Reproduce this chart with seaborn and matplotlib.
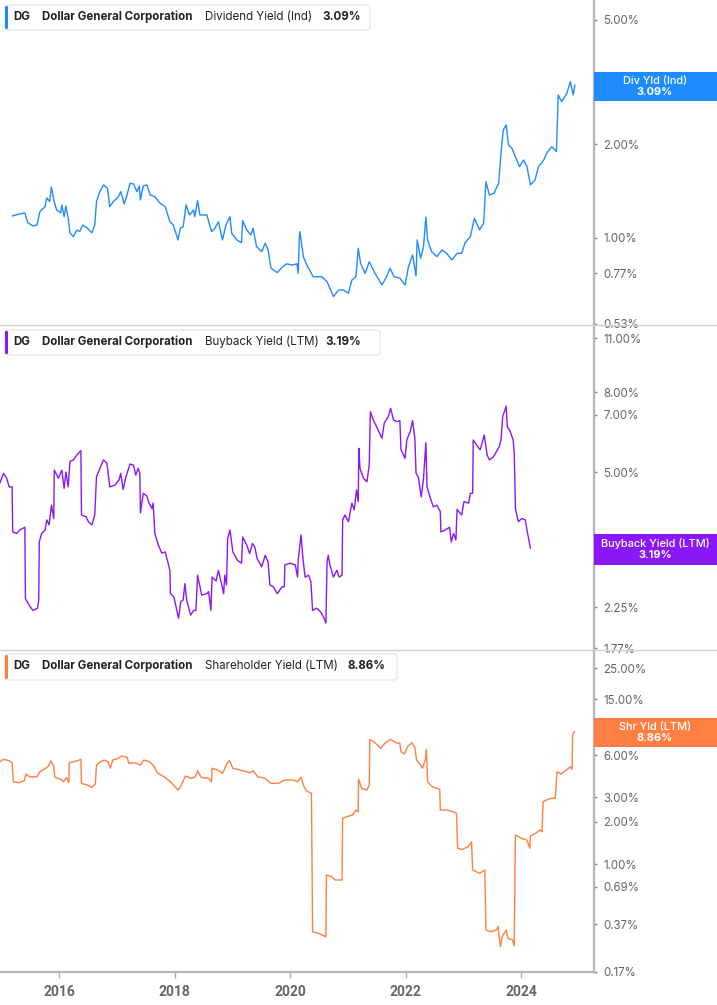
import matplotlib
matplotlib.use("Agg")
import matplotlib.pyplot as plt
import seaborn as sns
import pandas as pd
from matplotlib.patches import FancyBboxPatch, Rectangle
from matplotlib.lines import Line2D
from matplotlib.ticker import FixedLocator, FixedFormatter, NullLocator

# ---------------- data ----------------
div_years = [2015.19, 2015.32, 2015.41, 2015.46, 2015.55, 2015.62, 2015.67, 2015.76, 2015.79, 2015.84,
             2015.87, 2015.91, 2015.96, 2016.03, 2016.05, 2016.09, 2016.12, 2016.16, 2016.19, 2016.25,
             2016.31, 2016.36, 2016.41, 2016.49, 2016.57, 2016.62, 2016.65, 2016.70, 2016.77, 2016.84,
             2016.88, 2016.94, 2017.03, 2017.07, 2017.13, 2017.17, 2017.23, 2017.29, 2017.35, 2017.39,
             2017.41, 2017.46, 2017.52, 2017.58, 2017.66, 2017.75, 2017.84, 2017.92, 2017.98, 2018.06,
             2018.10, 2018.15, 2018.20, 2018.26, 2018.33, 2018.35, 2018.40, 2018.44, 2018.56, 2018.64,
             2018.70, 2018.76, 2018.83, 2018.89, 2018.96, 2018.99, 2019.08, 2019.16, 2019.18, 2019.25,
             2019.32, 2019.36, 2019.42, 2019.51, 2019.57, 2019.62, 2019.67, 2019.78, 2019.86, 2019.94,
             2020.03, 2020.12, 2020.14, 2020.16, 2020.17, 2020.23, 2020.29, 2020.40, 2020.55, 2020.64,
             2020.75, 2020.84, 2020.92, 2021.01, 2021.07, 2021.14, 2021.18, 2021.22, 2021.30, 2021.37,
             2021.47, 2021.59, 2021.67, 2021.73, 2021.80, 2021.90, 2021.99, 2022.05, 2022.12, 2022.18,
             2022.20, 2022.26, 2022.31, 2022.35, 2022.38, 2022.45, 2022.54, 2022.63, 2022.71, 2022.80,
             2022.89, 2022.97, 2023.03, 2023.12, 2023.19, 2023.28, 2023.35, 2023.39, 2023.45, 2023.53,
             2023.61, 2023.65, 2023.69, 2023.74, 2023.78, 2023.84, 2023.90, 2023.97, 2024.04, 2024.10,
             2024.16, 2024.24, 2024.30, 2024.39, 2024.44, 2024.53, 2024.61, 2024.64, 2024.70, 2024.79,
             2024.85, 2024.90, 2024.93]
div_vals = [1.176, 1.194, 1.203, 1.12, 1.093, 1.10, 1.214, 1.26, 1.343, 1.307,
            1.457, 1.324, 1.229, 1.205, 1.276, 1.17, 1.266, 1.159, 1.038, 1.01,
            1.061, 1.048, 1.10, 1.077, 1.038, 1.10, 1.307, 1.397, 1.479, 1.443,
            1.26, 1.307, 1.356, 1.407, 1.285, 1.356, 1.497, 1.49, 1.407, 1.468,
            1.324, 1.468, 1.479, 1.373, 1.356, 1.292, 1.26, 1.128, 1.10, 0.985,
            1.074, 1.087, 1.276, 1.185, 1.229, 1.17, 1.317, 1.185, 1.185, 1.048,
            1.074, 1.128, 0.985, 1.10, 1.17, 1.035, 0.985, 0.966, 1.136, 1.061,
            1.022, 1.074, 0.938, 0.904, 0.962, 0.915, 0.80, 0.774, 0.806, 0.826,
            0.819, 0.826, 0.77, 0.998, 1.048, 0.871, 0.819, 0.751, 0.751, 0.724,
            0.649, 0.681, 0.681, 0.665, 0.733, 0.751, 0.927, 0.83, 0.77, 0.839,
            0.77, 0.707, 0.751, 0.80, 0.751, 0.743, 0.707, 0.809, 0.882, 0.756,
            0.985, 0.861, 0.938, 1.165, 0.985, 0.904, 0.871, 0.915, 0.893, 0.85,
            0.893, 0.893, 0.966, 1.01, 1.156, 1.061, 1.115, 1.515, 1.373, 1.391,
            1.497, 1.868, 2.22, 2.302, 1.987, 1.939, 1.822, 1.692, 1.778, 1.692,
            1.479, 1.535, 1.692, 1.778, 1.868, 1.962, 1.891, 2.873, 2.735, 2.909,
            3.17, 2.873, 3.09]

bb_years = [2014.98, 2015.04, 2015.09, 2015.14, 2015.19, 2015.20, 2015.27, 2015.32, 2015.41, 2015.42,
            2015.50, 2015.55, 2015.63, 2015.65, 2015.66, 2015.70, 2015.76, 2015.79, 2015.83, 2015.87,
            2015.91, 2015.92, 2015.99, 2016.05, 2016.09, 2016.12, 2016.16, 2016.19, 2016.25, 2016.31,
            2016.38, 2016.39, 2016.47, 2016.51, 2016.57, 2016.62, 2016.65, 2016.71, 2016.77, 2016.83,
            2016.88, 2016.97, 2017.04, 2017.07, 2017.11, 2017.16, 2017.23, 2017.29, 2017.33, 2017.37,
            2017.40, 2017.41, 2017.46, 2017.52, 2017.56, 2017.61, 2017.63, 2017.66, 2017.72, 2017.78,
            2017.84, 2017.89, 2017.92, 2017.93, 2017.99, 2018.07, 2018.11, 2018.15, 2018.18, 2018.21,
            2018.28, 2018.33, 2018.37, 2018.40, 2018.47, 2018.56, 2018.59, 2018.63, 2018.65, 2018.72,
            2018.76, 2018.80, 2018.85, 2018.87, 2018.90, 2018.92, 2018.96, 2019.01, 2019.09, 2019.16,
            2019.18, 2019.25, 2019.30, 2019.35, 2019.39, 2019.43, 2019.51, 2019.57, 2019.62, 2019.65,
            2019.71, 2019.78, 2019.86, 2019.90, 2019.91, 2020.00, 2020.09, 2020.13, 2020.14, 2020.19,
            2020.22, 2020.26, 2020.32, 2020.36, 2020.39, 2020.46, 2020.53, 2020.59, 2020.62, 2020.64,
            2020.66, 2020.69, 2020.75, 2020.81, 2020.85, 2020.90, 2020.91, 2020.95, 2021.01, 2021.07,
            2021.11, 2021.15, 2021.18, 2021.19, 2021.21, 2021.27, 2021.33, 2021.37, 2021.39, 2021.44,
            2021.51, 2021.59, 2021.63, 2021.70, 2021.74, 2021.79, 2021.85, 2021.90, 2021.92, 2021.99,
            2022.02, 2022.08, 2022.12, 2022.16, 2022.18, 2022.22, 2022.27, 2022.31, 2022.35, 2022.37,
            2022.42, 2022.48, 2022.54, 2022.60, 2022.61, 2022.68, 2022.76, 2022.79, 2022.83, 2022.87,
            2022.89, 2022.97, 2023.01, 2023.09, 2023.12, 2023.16, 2023.17, 2023.23, 2023.29, 2023.36,
            2023.41, 2023.45, 2023.52, 2023.59, 2023.62, 2023.65, 2023.68, 2023.74, 2023.76, 2023.81,
            2023.86, 2023.88, 2023.90, 2023.95, 2024.01, 2024.07, 2024.10, 2024.16]
bb_vals = [4.69, 4.96, 4.84, 4.58, 4.58, 3.51, 3.48, 3.55, 3.61, 2.37,
           2.26, 2.21, 2.24, 2.35, 3.31, 3.48, 3.55, 3.77, 3.66, 4.11,
           3.80, 5.06, 4.82, 5.06, 4.54, 5.0, 4.58, 5.32, 5.37, 5.53,
           5.67, 3.88, 3.84, 3.73, 3.66, 3.88, 4.86, 5.11, 5.37, 5.27,
           4.58, 4.63, 4.77, 4.96, 4.51, 4.86, 5.24, 5.21, 4.91, 5.11,
           4.96, 3.93, 4.41, 4.34, 4.16, 4.03, 4.16, 3.48, 3.25, 3.10,
           3.12, 2.92, 2.80, 2.44, 2.39, 2.11, 2.33, 2.35, 2.59, 2.35,
           2.15, 2.21, 2.21, 2.72, 2.42, 2.44, 2.47, 2.21, 2.69, 2.63,
           2.80, 2.64, 2.44, 2.72, 2.57, 3.38, 3.55, 3.12, 2.97, 2.92,
           3.41, 3.25, 3.09, 3.28, 3.21, 3.00, 2.86, 3.06, 2.94, 2.57,
           2.54, 2.44, 2.54, 2.54, 2.89, 2.92, 2.89, 2.69, 2.97, 3.45,
           3.03, 2.69, 2.72, 2.62, 2.21, 2.24, 2.19, 2.11, 2.05, 2.94,
           3.06, 2.89, 2.69, 2.80, 2.69, 2.72, 3.77, 3.88, 3.73, 4.16,
           4.00, 4.50, 4.20, 5.75, 5.11, 4.82, 4.72, 5.21, 7.14, 6.80,
           6.47, 6.10, 6.67, 6.93, 7.28, 6.80, 6.73, 6.77, 5.70, 5.42,
           6.04, 6.35, 6.77, 6.10, 4.96, 4.86, 4.32, 4.82, 5.94, 4.58,
           4.32, 4.07, 4.11, 3.96, 3.51, 3.55, 3.61, 3.31, 3.48, 3.35,
           4.01, 3.88, 4.20, 4.16, 4.41, 4.41, 6.04, 5.86, 5.70, 6.22,
           5.53, 5.37, 5.47, 5.70, 5.81, 6.04, 6.93, 7.38, 6.53, 6.35,
           6.04, 5.58, 4.03, 3.73, 3.80, 3.77, 3.55, 3.19]

sh_years = [2014.98, 2015.04, 2015.14, 2015.19, 2015.21, 2015.31, 2015.40, 2015.43, 2015.50, 2015.62,
            2015.67, 2015.77, 2015.82, 2015.86, 2015.91, 2015.93, 2016.03, 2016.08, 2016.13, 2016.17,
            2016.18, 2016.26, 2016.32, 2016.38, 2016.39, 2016.49, 2016.57, 2016.63, 2016.65, 2016.72,
            2016.78, 2016.85, 2016.89, 2016.93, 2017.03, 2017.08, 2017.18, 2017.21, 2017.31, 2017.41,
            2017.47, 2017.57, 2017.65, 2017.70, 2017.80, 2017.93, 2018.06, 2018.11, 2018.19, 2018.29,
            2018.36, 2018.40, 2018.46, 2018.59, 2018.64, 2018.65, 2018.75, 2018.83, 2018.91, 2018.95,
            2019.01, 2019.18, 2019.31, 2019.36, 2019.44, 2019.57, 2019.67, 2019.80, 2019.90, 2020.06,
            2020.13, 2020.19, 2020.23, 2020.28, 2020.37, 2020.39, 2020.49, 2020.62, 2020.63, 2020.72,
            2020.78, 2020.90, 2020.91, 2020.98, 2021.08, 2021.14, 2021.18, 2021.185, 2021.24, 2021.33,
            2021.37, 2021.38, 2021.47, 2021.57, 2021.64, 2021.74, 2021.83, 2021.90, 2021.92, 2021.98,
            2022.03, 2022.11, 2022.16, 2022.19, 2022.26, 2022.29, 2022.34, 2022.36, 2022.38, 2022.46,
            2022.59, 2022.60, 2022.72, 2022.82, 2022.88, 2022.90, 2022.98, 2023.08, 2023.14, 2023.16,
            2023.28, 2023.37, 2023.39, 2023.47, 2023.57, 2023.60, 2023.64, 2023.67, 2023.74, 2023.77,
            2023.85, 2023.88, 2023.90, 2024.00, 2024.10, 2024.15, 2024.16, 2024.26, 2024.33, 2024.36,
            2024.38, 2024.46, 2024.54, 2024.59, 2024.62, 2024.69, 2024.78, 2024.85, 2024.88, 2024.89,
            2024.92]
sh_vals = [5.38, 5.60, 5.47, 5.29, 3.87, 3.81, 3.94, 4.39, 4.20, 4.20,
           4.56, 4.83, 5.01, 5.47, 4.95, 4.16, 4.03, 3.87, 4.16, 3.81,
           5.29, 5.38, 5.47, 5.60, 3.77, 3.67, 3.53, 3.73, 5.10, 5.38,
           5.53, 5.38, 4.83, 5.53, 5.69, 5.91, 5.78, 5.24, 5.29, 5.10,
           5.53, 5.38, 4.95, 4.49, 4.25, 3.87, 3.38, 3.61, 4.25, 4.09,
           4.20, 4.64, 4.16, 4.09, 3.87, 4.83, 4.69, 4.44, 5.24, 5.47,
           4.83, 4.64, 4.49, 4.64, 4.20, 4.09, 3.77, 3.77, 3.98, 3.98,
           3.87, 4.16, 3.67, 3.34, 3.20, 0.328, 0.320, 0.302, 0.835, 0.812,
           0.769, 0.769, 2.12, 2.18, 2.24, 2.43, 2.36, 4.03, 3.47, 3.38,
           3.67, 7.78, 7.35, 6.71, 7.28, 7.78, 7.35, 7.28, 6.34, 6.11,
           6.88, 7.35, 6.82, 5.53, 5.10, 4.83, 5.53, 6.60, 3.87, 3.57,
           3.42, 2.43, 2.43, 2.36, 2.30, 1.295, 1.27, 1.33, 1.44, 0.906,
           0.858, 0.906, 0.338, 0.328, 0.338, 0.357, 0.257, 0.302, 0.338, 0.295,
           0.287, 0.26, 1.61, 1.53, 1.48, 1.295, 1.585, 1.67, 1.75, 1.70,
           2.79, 2.90, 2.95, 2.95, 4.56, 4.39, 4.69, 4.95, 4.75, 8.35,
           8.86]

div_ticks = [0.53, 0.77, 1.00, 2.00, 3.00, 5.00]
bb_ticks = [1.77, 2.25, 3.00, 5.00, 7.00, 8.00, 11.00]
sh_ticks = [0.17, 0.37, 0.69, 1.00, 2.00, 3.00, 6.00, 8.00, 15.00, 25.00]
year_ticks = [2016, 2018, 2020, 2022, 2024]

company = "Dollar General Corporation"
ticker = "DG"
metric_names = ["Dividend Yield (Ind)", "Buyback Yield (LTM)", "Shareholder Yield (LTM)"]
short_names = ["Div Yld (Ind)", "Buyback Yield (LTM)", "Shr Yld (LTM)"]
last_values = ["3.09%", "3.19%", "8.86%"]
colors = ["#1E8CFF", "#8A17F5", "#FF7F43"]

# ---------------- figure ----------------
sns.set_theme(style="white")
plt.rcParams['font.family'] = ['Inter', 'DejaVu Sans']

W, H = 717, 1005
fig = plt.figure(figsize=(W / 100, H / 100), dpi=100)
fig.patch.set_facecolor("white")
T = fig.dpi_scale_trans


def P(x, y):
    """pixel (from top-left) -> inches for dpi_scale_trans"""
    return x / 100.0, (H - y) / 100.0


PLOT_R = 594
XLIM = (2014.98, 2025.26)
layout = [
    dict(top=0, bot=325, ylim=(0.526, 5.79), ticks=div_ticks, years=div_years, vals=div_vals,
         hdr_y=17, box=(5, 30), hdr_w=365, val_x=322, rbox=(72, 101)),
    dict(top=325, bot=650, ylim=(1.75, 11.9), ticks=bb_ticks, years=bb_years, vals=bb_vals,
         hdr_y=342, box=(330, 355), hdr_w=375, val_x=325, rbox=(534, 565)),
    dict(top=650, bot=972, ylim=(0.1693, 33.8), ticks=sh_ticks, years=sh_years, vals=sh_vals,
         hdr_y=666, box=(654, 680), hdr_w=392, val_x=348, rbox=(718, 747)),
]

for i, L in enumerate(layout):
    ax = fig.add_axes([0, 1 - L["bot"] / H, PLOT_R / W, (L["bot"] - L["top"]) / H])
    ax.set_facecolor("none")
    df = pd.DataFrame({"year": L["years"], "value": L["vals"]})
    sns.lineplot(data=df, x="year", y="value", ax=ax, color=colors[i], linewidth=1.0,
                 estimator=None, sort=False)
    ax.set_yscale("log")
    ax.set_xlim(*XLIM)
    ax.set_ylim(*L["ylim"])
    ax.set_xlabel("")
    ax.set_ylabel("")
    ax.yaxis.tick_right()
    ax.yaxis.set_major_locator(FixedLocator(L["ticks"]))
    ax.yaxis.set_major_formatter(FixedFormatter([f"{t:.2f}%" for t in L["ticks"]]))
    ax.yaxis.set_minor_locator(NullLocator())
    ax.tick_params(axis="y", which="major", right=True, left=False, direction="out",
                   length=2.5, width=1, color="#888888", labelsize=8.3, labelcolor="#666666", pad=4)
    for s in ["top", "left", "bottom"]:
        ax.spines[s].set_visible(False)
    ax.spines["right"].set_color("#b5b5b5")
    ax.spines["right"].set_linewidth(1.6)
    ax.grid(False)
    if i < 2:
        ax.set_xticks([])
    else:
        ax.spines["bottom"].set_visible(True)
        ax.spines["bottom"].set_color("#b5b5b5")
        ax.spines["bottom"].set_linewidth(1.6)
        ax.set_xticks(year_ticks)
        ax.set_xticklabels([str(y) for y in year_ticks])
        ax.tick_params(axis="x", bottom=True, direction="out", length=4, width=1,
                       color="#aaaaaa", labelsize=10, labelcolor="#666666", pad=5)
        for lab in ax.get_xticklabels():
            lab.set_family(["Liberation Sans Narrow", "Roboto", "DejaVu Sans"])
            lab.set_fontweight("bold")

    # header box
    y0, y1 = L["box"]
    bx, by = P(5, y1)
    hdr = FancyBboxPatch((bx, by), L["hdr_w"] / 100, (y1 - y0) / 100,
                         boxstyle="round,pad=0,rounding_size=0.03", transform=T,
                         facecolor="white", edgecolor="#e3e3e3", linewidth=0.8, zorder=20)
    fig.add_artist(hdr)
    cx, cy = P(5, y1 - 1)
    bar = FancyBboxPatch((cx, cy), 0.03, (y1 - y0 - 2) / 100,
                         boxstyle="round,pad=0,rounding_size=0.012", transform=T,
                         facecolor=colors[i], edgecolor="none", zorder=21)
    fig.add_artist(bar)
    ty = L["hdr_y"]
    fig.text(*P(13, ty), ticker, transform=T, fontsize=8.3, fontweight="bold",
             color="#222222", va="center", ha="left", zorder=22)
    fig.text(*P(42, ty), company, transform=T, fontsize=8.3, fontweight="bold",
             color="#222222", va="center", ha="left", zorder=22)
    fig.text(*P(205, ty), metric_names[i], transform=T, fontsize=8.3,
             color="#222222", va="center", ha="left", zorder=22)
    fig.text(*P(L["val_x"], ty), last_values[i], transform=T, fontsize=8.3, fontweight="bold",
             color="#222222", va="center", ha="left", zorder=22)

    # right value box
    r0, r1 = L["rbox"]
    rx, ry = P(PLOT_R, r1)
    rb = Rectangle((rx, ry), (W - PLOT_R) / 100, (r1 - r0) / 100, transform=T,
                   facecolor=colors[i], edgecolor="none", zorder=30)
    fig.add_artist(rb)
    mid = (r0 + r1) / 2
    fig.text(*P(655, mid - 6), short_names[i], transform=T, fontsize=7.9, color="white",
             fontweight="medium", va="center", ha="center", zorder=31)
    fig.text(*P(655, mid + 5.5), last_values[i], transform=T, fontsize=7.9, color="white",
             fontweight="bold", va="center", ha="center", zorder=31)

# separators between panels
for sy in (325, 650):
    x0, yy = P(0, sy)
    x1, _ = P(W, sy)
    fig.add_artist(Line2D([x0, x1], [yy, yy], transform=T, color="#d2d2d2", linewidth=1.0, zorder=15))

fig.savefig("out.png", dpi=100, facecolor="white")
